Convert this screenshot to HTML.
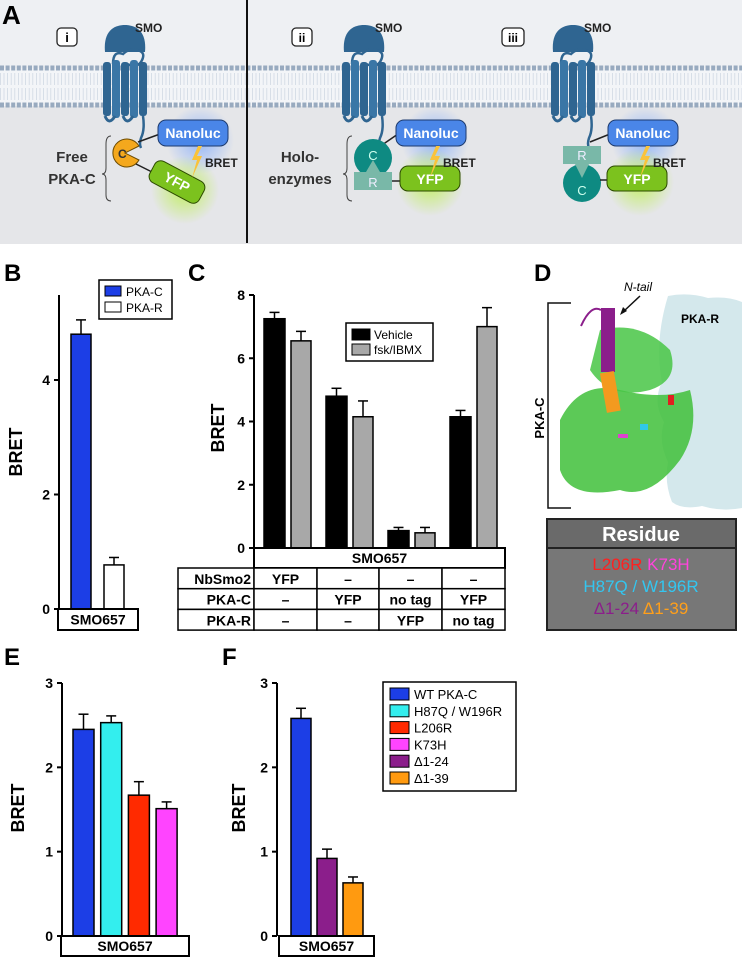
<!DOCTYPE html>
<html><head><meta charset="utf-8"><style>
html,body{margin:0;padding:0;background:#fff}
svg{display:block;font-family:"Liberation Sans",sans-serif}
</style></head><body>
<svg id="fig" width="742" height="959" viewBox="0 0 742 959" xmlns="http://www.w3.org/2000/svg">
<defs>
<radialGradient id="gB"><stop offset="0" stop-color="#6fa0ff" stop-opacity=".7"/><stop offset="1" stop-color="#6fa0ff" stop-opacity="0"/></radialGradient>
<radialGradient id="gG"><stop offset="0" stop-color="#b8f040" stop-opacity=".8"/><stop offset="1" stop-color="#b8f040" stop-opacity="0"/></radialGradient>
<g id="smo">
<path d="M-20 12 C-22 -10 -10 -15 0 -15 C10 -15 22 -10 20 12 Z" fill="#2f6591"/>
<path d="M-12 24 q0 -14 10 -10 q6 -6 14 -4 q10 2 4 12 q-4 6 -14 2" stroke="#2f6591" stroke-width="2.5" fill="none"/>
<rect x="-22" y="22" width="8" height="54" rx="3" fill="#2f6591"/>
<rect x="-13" y="20" width="8" height="58" rx="3" fill="#3a76a6"/>
<rect x="-4" y="22" width="8" height="54" rx="3" fill="#2f6591"/>
<rect x="5" y="20" width="8" height="58" rx="3" fill="#3a76a6"/>
<rect x="14" y="22" width="8" height="54" rx="3" fill="#2f6591"/>
<path d="M-20 76 q4 10 10 0 M-2 76 q4 10 10 0" stroke="#2f6591" stroke-width="3" fill="none"/>
<path d="M18 76 q2 14 -2 22 q-2 6 0 10" stroke="#2f6591" stroke-width="2.5" fill="none"/>
</g>
</defs>

<!-- Panel A -->
<g>
<rect x="0" y="0" width="742" height="244" fill="#eef0f3"/>
<rect x="0" y="106" width="742" height="138" fill="#e5e6e9"/>
<rect x="0" y="68" width="742" height="38" fill="#f3f5f8"/>
<line x1="0" y1="68" x2="742" y2="68" stroke="#98aabf" stroke-width="5" stroke-dasharray="4 1.6"/>
<line x1="0" y1="105" x2="742" y2="105" stroke="#98aabf" stroke-width="5" stroke-dasharray="4 1.6"/>
<line x1="0" y1="79" x2="742" y2="79" stroke="#d0d8e3" stroke-width="12" stroke-dasharray="0.8 2.8"/>
<line x1="0" y1="94" x2="742" y2="94" stroke="#d0d8e3" stroke-width="12" stroke-dasharray="0.8 2.8"/>
<line x1="247" y1="0" x2="247" y2="243" stroke="#111" stroke-width="2"/>
<text x="2" y="24" font-size="26" font-weight="bold">A</text>

<g>
<rect x="57" y="28" width="20" height="18" rx="4" fill="#fff" stroke="#222" stroke-width="1.3"/>
<text x="67" y="42" font-size="13" font-weight="bold" text-anchor="middle">i</text>
<use href="#smo" x="125" y="40"/>
<text x="135" y="32" font-size="12" font-weight="bold" fill="#222">SMO</text>
<circle cx="200" cy="140" r="34" fill="url(#gB)"/>
<circle cx="185" cy="190" r="34" fill="url(#gG)"/>
<line x1="138" y1="142" x2="160" y2="134" stroke="#222" stroke-width="1.5"/>
<rect x="158" y="120" width="70" height="26" rx="8" fill="#4a86e8" stroke="#1d3b6e"/>
<text x="193" y="138" font-size="14" font-weight="bold" fill="#fff" text-anchor="middle">Nanoluc</text>
<path d="M125 153 L139 146 A14 14 0 1 0 139 160 Z" fill="#f4a81d" stroke="#6b4a00"/>
<text x="118" y="158" font-size="12" font-weight="bold" fill="#333">C</text>
<line x1="136" y1="164" x2="152" y2="172" stroke="#222" stroke-width="1.5"/>
<g transform="rotate(28 177 182)"><rect x="149" y="170" width="56" height="24" rx="7" fill="#7cc21e" stroke="#2c4a00"/><text x="177" y="187" font-size="14" font-weight="bold" fill="#fff" text-anchor="middle">YFP</text></g>
<path d="M198 146 l-6 14 h5 l-5 18 l10 -22 h-5 l5 -10z" fill="#f9c33a"/>
<text x="205" y="167" font-size="12" font-weight="bold" fill="#222">BRET</text>
<text x="72" y="162" font-size="15" font-weight="bold" fill="#333" text-anchor="middle">Free</text>
<text x="72" y="184" font-size="15" font-weight="bold" fill="#333" text-anchor="middle">PKA-C</text>
<path d="M111 136 q-5 0 -5 8 v24 q0 6 -4 6 q4 0 4 6 v15 q0 6 5 6" stroke="#444" fill="none"/>
</g>

<g>
<rect x="292" y="28" width="20" height="18" rx="4" fill="#fff" stroke="#222" stroke-width="1.3"/>
<text x="302" y="42" font-size="12" font-weight="bold" text-anchor="middle">ii</text>
<use href="#smo" x="364" y="40"/>
<text x="375" y="32" font-size="12" font-weight="bold" fill="#222">SMO</text>
<circle cx="435" cy="140" r="34" fill="url(#gB)"/>
<circle cx="430" cy="182" r="34" fill="url(#gG)"/>
<line x1="382" y1="145" x2="398" y2="134" stroke="#222" stroke-width="1.5"/>
<rect x="396" y="120" width="70" height="26" rx="8" fill="#4a86e8" stroke="#1d3b6e"/>
<text x="431" y="138" font-size="14" font-weight="bold" fill="#fff" text-anchor="middle">Nanoluc</text>
<circle cx="373" cy="158" r="19" fill="#0e8a82"/>
<text x="373" y="160" font-size="13" fill="#cfe" text-anchor="middle">C</text>
<path d="M366 172 l7 -12 l7 12 h12 v18 h-38 v-18z" fill="#79b8a8"/>
<text x="373" y="187" font-size="13" fill="#eef" text-anchor="middle">R</text>
<line x1="392" y1="181" x2="402" y2="181" stroke="#222" stroke-width="1.5"/>
<rect x="400" y="166" width="60" height="25" rx="8" fill="#7cc21e" stroke="#2c4a00"/>
<text x="430" y="184" font-size="14" font-weight="bold" fill="#fff" text-anchor="middle">YFP</text>
<path d="M436 146 l-6 14 h5 l-5 18 l10 -22 h-5 l5 -10z" fill="#f9c33a"/>
<text x="443" y="167" font-size="12" font-weight="bold" fill="#222">BRET</text>
<text x="300" y="162" font-size="15" font-weight="bold" fill="#333" text-anchor="middle">Holo-</text>
<text x="300" y="184" font-size="15" font-weight="bold" fill="#333" text-anchor="middle">enzymes</text>
<path d="M352 136 q-5 0 -5 8 v24 q0 6 -4 6 q4 0 4 6 v15 q0 6 5 6" stroke="#444" fill="none"/>
</g>

<g>
<rect x="502" y="28" width="22" height="18" rx="4" fill="#fff" stroke="#222" stroke-width="1.3"/>
<text x="513" y="42" font-size="12" font-weight="bold" text-anchor="middle">iii</text>
<use href="#smo" x="573" y="40"/>
<text x="584" y="32" font-size="12" font-weight="bold" fill="#222">SMO</text>
<circle cx="645" cy="140" r="34" fill="url(#gB)"/>
<circle cx="640" cy="182" r="34" fill="url(#gG)"/>
<line x1="590" y1="142" x2="610" y2="134" stroke="#222" stroke-width="1.5"/>
<rect x="608" y="120" width="70" height="26" rx="8" fill="#4a86e8" stroke="#1d3b6e"/>
<text x="643" y="138" font-size="14" font-weight="bold" fill="#fff" text-anchor="middle">Nanoluc</text>
<circle cx="582" cy="183" r="19" fill="#0e8a82"/>
<path d="M563 146 h38 v18 h-12 l-7 14 l-7 -14 h-12z" fill="#79b8a8"/>
<text x="582" y="160" font-size="13" fill="#eef" text-anchor="middle">R</text>
<text x="582" y="195" font-size="13" fill="#cfe" text-anchor="middle">C</text>
<line x1="600" y1="180" x2="608" y2="180" stroke="#222" stroke-width="1.5"/>
<rect x="607" y="166" width="60" height="25" rx="8" fill="#7cc21e" stroke="#2c4a00"/>
<text x="637" y="184" font-size="14" font-weight="bold" fill="#fff" text-anchor="middle">YFP</text>
<path d="M646 146 l-6 14 h5 l-5 18 l10 -22 h-5 l5 -10z" fill="#f9c33a"/>
<text x="653" y="167" font-size="12" font-weight="bold" fill="#222">BRET</text>
</g>
</g>

<!-- Panel labels -->
<text x="4" y="281" font-size="24" font-weight="bold">B</text>
<text x="188" y="281" font-size="24" font-weight="bold">C</text>
<text x="534" y="281" font-size="24" font-weight="bold">D</text>
<text x="4" y="665" font-size="24" font-weight="bold">E</text>
<text x="222" y="665" font-size="24" font-weight="bold">F</text>

<!-- Panel D structure -->
<g>
<path d="M668 296 q20 -4 40 2 q20 -2 34 4 v206 q-20 4 -40 -2 q-20 4 -30 -4 q-8 -20 -4 -40 q-10 -20 -4 -40 q-12 -20 -2 -40 q-8 -40 6 -86z" fill="#d4e8ec"/>
<path d="M560 420 q20 -40 60 -30 q40 10 70 0 q10 40 -10 70 q-30 40 -60 30 q-50 10 -60 -20z" fill="#3fbf3a" opacity=".85"/>
<path d="M600 330 q40 -10 70 20 q10 30 -20 40 q-40 10 -60 -20z" fill="#48c545" opacity=".85"/>
<rect x="601" y="308" width="14" height="64" fill="#8b1e8b"/>
<rect x="603" y="372" width="14" height="40" fill="#f39a1f" transform="rotate(-10 610 390)"/>
<path d="M601 310 q-10 -6 -20 16" stroke="#8b1e8b" stroke-width="2" fill="none"/>
<rect x="668" y="395" width="6" height="10" fill="#e02020"/>
<rect x="640" y="424" width="8" height="6" fill="#30c8e8"/>
<rect x="618" y="434" width="10" height="4" fill="#e040d0"/>
<path d="M571 303 h-23 v205 h23" stroke="#111" stroke-width="1.5" fill="none"/>
<text x="544" y="418" font-size="13" font-weight="bold" transform="rotate(-90 544 418)" text-anchor="middle">PKA-C</text>
<text x="624" y="291" font-size="12" font-style="italic">N-tail</text>
<line x1="640" y1="296" x2="624" y2="311" stroke="#111" stroke-width="1.5"/>
<path d="M620 315 l3 -8 l4 4z" fill="#111"/>
<text x="681" y="323" font-size="12" font-weight="bold">PKA-R</text>
</g>
<g>
<rect x="547" y="519" width="189" height="111" fill="#777" stroke="#222" stroke-width="2"/>
<rect x="547" y="519" width="189" height="29" fill="#6a6a6a" stroke="#222" stroke-width="2"/>
<text x="641" y="541" font-size="20" font-weight="bold" fill="#fff" text-anchor="middle">Residue</text>
<text x="641" y="570" font-size="17" text-anchor="middle"><tspan fill="#ff2020">L206R</tspan>  <tspan fill="#ff44dd">K73H</tspan></text>
<text x="641" y="592" font-size="17" text-anchor="middle" fill="#33c6f0">H87Q / W196R</text>
<text x="641" y="614" font-size="17" text-anchor="middle"><tspan fill="#8b1e8b">Δ1-24</tspan>  <tspan fill="#ff9f1a">Δ1-39</tspan></text>
</g>

<g id="charts"></g>
</svg>
<script>
// Panel B data
const bCats = ["PKA-C", "PKA-R"];
const bVals = [4.8, 0.77];
const bErr = [0.25, 0.13];
const bTicks = [0, 2, 4];
// Panel C data
const cGroups = ["g1", "g2", "g3", "g4"];
const cVehicle = [7.25, 4.8, 0.55, 4.15];
const cVehErr = [0.2, 0.25, 0.1, 0.2];
const cFsk = [6.55, 4.15, 0.48, 7.0];
const cFskErr = [0.3, 0.5, 0.17, 0.6];
const cTicks = [0, 2, 4, 6, 8];
// Panel E data
const eCats = ["WT PKA-C", "H87Q / W196R", "L206R", "K73H"];
const eVals = [2.45, 2.53, 1.67, 1.51];
const eErr = [0.18, 0.08, 0.16, 0.08];
// Panel F data
const fCats = ["WT PKA-C", "Δ1-24", "Δ1-39"];
const fVals = [2.58, 0.92, 0.63];
const fErr = [0.12, 0.11, 0.07];
const efTicks = [0, 1, 2, 3];
const legendNames = ["WT PKA-C", "H87Q / W196R", "L206R", "K73H", "Δ1-24", "Δ1-39"];

const colors = {"WT PKA-C":"#1c3ee6","H87Q / W196R":"#33eeee","L206R":"#ff2a00","K73H":"#ff44ff","Δ1-24":"#8b1e8b","Δ1-39":"#ff9a10"};
const NS = "http://www.w3.org/2000/svg";
const root = document.getElementById("charts");
function mk(tag, attrs, parent, text){
  const e = document.createElementNS(NS, tag);
  for (const k in attrs) e.setAttribute(k, attrs[k]);
  if (text !== undefined) e.textContent = text;
  (parent || root).appendChild(e);
  return e;
}
function axis(x, y0, yTop, maxV, ticks, g, axTop){
  const sc = v => y0 - (y0 - yTop) * v / maxV;
  const ax = mk("line", {x1:x, y1:(axTop !== undefined ? axTop : yTop), x2:x, y2:y0, stroke:"#000", "stroke-width":2}, g);
  
  
  ticks.forEach(t => {
    mk("line", {x1:x-5, y1:sc(t), x2:x, y2:sc(t), stroke:"#000", "stroke-width":2}, g);
    const tl = mk("text", {x:x-9, y:sc(t)+5, "font-size":14, "font-weight":"bold", "text-anchor":"end"}, g, String(t));
    
    
  });
  return sc;
}
function bar(x, w, v, err, sc, fill, g){
  const r = mk("rect", {x:x, y:sc(v), width:w, height:sc(0)-sc(v), fill:fill, stroke:"#000", "stroke-width":1.5}, g);
  
  
  const cx = x + w/2;
  mk("line", {x1:cx, y1:sc(v), x2:cx, y2:sc(v+err), stroke:"#000", "stroke-width":1.5}, g);
  mk("line", {x1:cx-5, y1:sc(v+err), x2:cx+5, y2:sc(v+err), stroke:"#000", "stroke-width":1.5}, g);
}
function ylabel(x, y, g){
  const t = mk("text", {x:x, y:y, "font-size":18, "font-weight":"bold", "text-anchor":"middle", transform:`rotate(-90 ${x} ${y})`}, g, "BRET");
  
  
}
function box(x, y, w, h, txt, g, fs){
  mk("rect", {x:x, y:y, width:w, height:h, fill:"#fff", stroke:"#000", "stroke-width":2}, g);
  if (txt) mk("text", {x:x+w/2, y:y+h/2+5, "font-size":fs||14, "font-weight":"bold", "text-anchor":"middle"}, g, txt);
}

// ---- Panel B ----
const gB = mk("g", {});


const scB = axis(59, 609, 380, 4, bTicks, gB, 295);
const bFill = ["#1c3ee6", "#fff"];
bCats.forEach((c, i) => bar(71 + i*33, 20, bVals[i], bErr[i], scB, bFill[i], gB));
box(58, 609, 80, 21, "SMO657", gB);
ylabel(22, 452, gB);
const lgB = mk("g", {}, gB);


mk("rect", {x:99, y:280, width:73, height:39, fill:"#fff", stroke:"#000", "stroke-width":1.5}, lgB);
bCats.forEach((c, i) => {
  mk("rect", {x:105, y:286+i*16, width:16, height:10, fill:bFill[i], stroke:"#000"}, lgB);
  mk("text", {x:126, y:296+i*16, "font-size":12}, lgB, c);
});

// ---- Panel C ----
const gC = mk("g", {});


const scC = axis(254, 548, 295, 8, cTicks, gC);
cGroups.forEach((g, i) => {
  const x0 = 264 + i*62;
  bar(x0, 21, cVehicle[i], cVehErr[i], scC, "#000", gC);
  bar(x0 + 27, 20, cFsk[i], cFskErr[i], scC, "#a8a8a8", gC);
});
ylabel(224, 428, gC);
const lgC = mk("g", {}, gC);


mk("rect", {x:346, y:323, width:87, height:38, fill:"#fff", stroke:"#000", "stroke-width":1.5}, lgC);
[["Vehicle","#000"],["fsk/IBMX","#a8a8a8"]].forEach((p, i) => {
  mk("rect", {x:352, y:329+i*15, width:18, height:11, fill:p[1], stroke:"#000"}, lgC);
  mk("text", {x:374, y:339+i*15, "font-size":12}, lgC, p[0]);
});
// table
const tG = mk("g", {}, gC);


box(254, 548, 251, 20, "SMO657", tG);
const rows = [["NbSmo2","YFP","–","–","–"],["PKA-C","–","YFP","no tag","YFP"],["PKA-R","–","–","YFP","no tag"]];
const colX = [178, 254, 317, 379, 442, 505];
rows.forEach((r, ri) => {
  const y = 568 + ri*20.7;
  r.forEach((cell, ci) => {
    mk("rect", {x:colX[ci], y:y, width:colX[ci+1]-colX[ci], height:20.7, fill:"#fff", stroke:"#000", "stroke-width":1.5}, tG);
    if (ci === 0) mk("text", {x:colX[1]-3, y:y+16, "font-size":14, "font-weight":"bold", "text-anchor":"end"}, tG, cell);
    else mk("text", {x:(colX[ci]+colX[ci+1])/2, y:y+16, "font-size":14, "font-weight":"bold", "text-anchor":"middle"}, tG, cell);
  });
});

// ---- Panel E ----
const gE = mk("g", {});


const scE = axis(62, 936, 683, 3, efTicks, gE);
eCats.forEach((c, i) => bar(73 + i*27.7, 21, eVals[i], eErr[i], scE, colors[c], gE));
box(61, 936, 128, 20, "SMO657", gE);
ylabel(24, 808, gE);

// ---- Panel F ----
const gF = mk("g", {});


const scF = axis(277, 936, 683, 3, efTicks, gF);
fCats.forEach((c, i) => bar(291 + i*26, 20, fVals[i], fErr[i], scF, colors[c], gF));
box(279, 936, 95, 20, "SMO657", gF);
ylabel(245, 808, gF);
const lgF = mk("g", {}, gF);


mk("rect", {x:383, y:682, width:133, height:109, fill:"#fff", stroke:"#000", "stroke-width":1.5}, lgF);
legendNames.forEach((n, i) => {
  const y = 694 + i*16.8;
  mk("rect", {x:390, y:y-6, width:19, height:12, fill:colors[n], stroke:"#000"}, lgF);
  mk("text", {x:414, y:y+5, "font-size":13}, lgF, n);
});
</script>
</body></html>
